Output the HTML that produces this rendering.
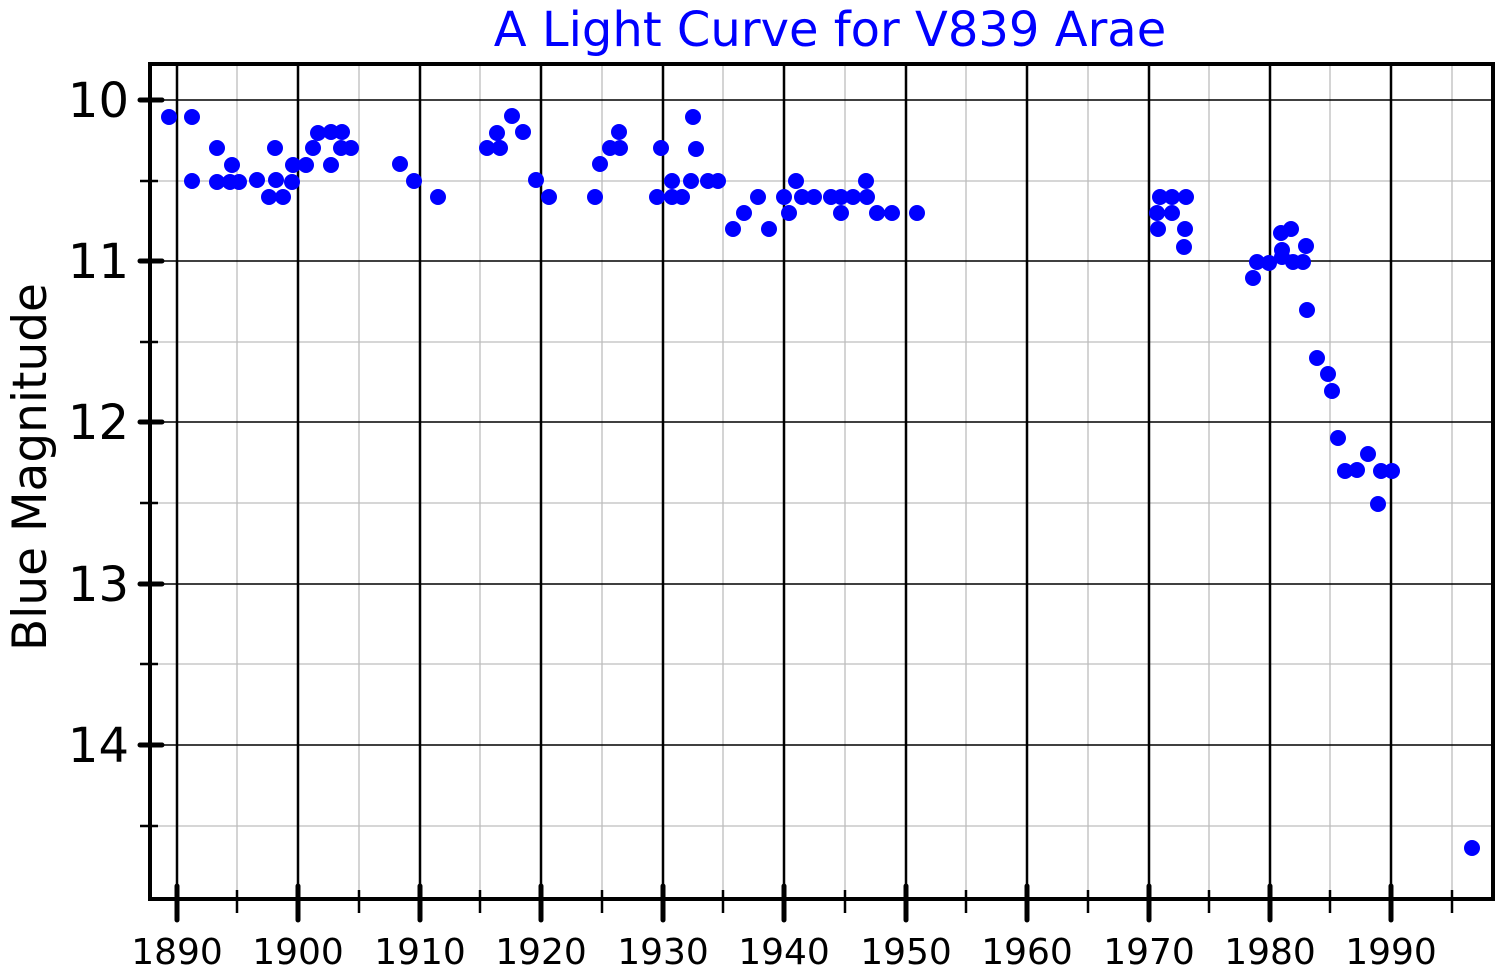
<!DOCTYPE html>
<html><head><meta charset="utf-8"><style>html,body{margin:0;padding:0;background:#fff}svg{display:block}</style></head>
<body>
<svg width="1500" height="975" xmlns="http://www.w3.org/2000/svg" font-family="DejaVu Sans, Liberation Sans, sans-serif">
<rect width="1500" height="975" fill="#fff"/>
<g stroke="#bdbdbd" stroke-width="1.3">
<line x1="150" x2="1493" y1="181" y2="181"/><line x1="150" x2="1493" y1="342" y2="342"/><line x1="150" x2="1493" y1="503" y2="503"/><line x1="150" x2="1493" y1="664" y2="664"/><line x1="150" x2="1493" y1="826" y2="826"/>
<line x1="237" x2="237" y1="64" y2="899"/><line x1="359" x2="359" y1="64" y2="899"/><line x1="480" x2="480" y1="64" y2="899"/><line x1="602" x2="602" y1="64" y2="899"/><line x1="723" x2="723" y1="64" y2="899"/><line x1="845" x2="845" y1="64" y2="899"/><line x1="966" x2="966" y1="64" y2="899"/><line x1="1088" x2="1088" y1="64" y2="899"/><line x1="1209" x2="1209" y1="64" y2="899"/><line x1="1330" x2="1330" y1="64" y2="899"/><line x1="1452" x2="1452" y1="64" y2="899"/>
</g>
<g stroke="#000" stroke-width="1.5">
<line x1="150" x2="1493" y1="100" y2="100"/><line x1="150" x2="1493" y1="261" y2="261"/><line x1="150" x2="1493" y1="422" y2="422"/><line x1="150" x2="1493" y1="584" y2="584"/><line x1="150" x2="1493" y1="745" y2="745"/>
</g>
<g stroke="#000" stroke-width="2.5">
<line x1="177" x2="177" y1="64" y2="899"/><line x1="298" x2="298" y1="64" y2="899"/><line x1="420" x2="420" y1="64" y2="899"/><line x1="541" x2="541" y1="64" y2="899"/><line x1="663" x2="663" y1="64" y2="899"/><line x1="784" x2="784" y1="64" y2="899"/><line x1="906" x2="906" y1="64" y2="899"/><line x1="1027" x2="1027" y1="64" y2="899"/><line x1="1149" x2="1149" y1="64" y2="899"/><line x1="1270" x2="1270" y1="64" y2="899"/><line x1="1391" x2="1391" y1="64" y2="899"/>
</g>
<g stroke="#000" stroke-width="5" stroke-linecap="round">
<line x1="177" x2="177" y1="886" y2="920"/><line x1="298" x2="298" y1="886" y2="920"/><line x1="420" x2="420" y1="886" y2="920"/><line x1="541" x2="541" y1="886" y2="920"/><line x1="663" x2="663" y1="886" y2="920"/><line x1="784" x2="784" y1="886" y2="920"/><line x1="906" x2="906" y1="886" y2="920"/><line x1="1027" x2="1027" y1="886" y2="920"/><line x1="1149" x2="1149" y1="886" y2="920"/><line x1="1270" x2="1270" y1="886" y2="920"/><line x1="1391" x2="1391" y1="886" y2="920"/>
<line x1="140" x2="162" y1="100" y2="100"/><line x1="140" x2="162" y1="261" y2="261"/><line x1="140" x2="162" y1="422" y2="422"/><line x1="140" x2="162" y1="584" y2="584"/><line x1="140" x2="162" y1="745" y2="745"/>
</g>
<g stroke="#000" stroke-width="2.5">
<line x1="237" x2="237" y1="890" y2="913"/><line x1="359" x2="359" y1="890" y2="913"/><line x1="480" x2="480" y1="890" y2="913"/><line x1="602" x2="602" y1="890" y2="913"/><line x1="723" x2="723" y1="890" y2="913"/><line x1="845" x2="845" y1="890" y2="913"/><line x1="966" x2="966" y1="890" y2="913"/><line x1="1088" x2="1088" y1="890" y2="913"/><line x1="1209" x2="1209" y1="890" y2="913"/><line x1="1330" x2="1330" y1="890" y2="913"/><line x1="1452" x2="1452" y1="890" y2="913"/>
<line x1="140" x2="158" y1="181" y2="181"/><line x1="140" x2="158" y1="342" y2="342"/><line x1="140" x2="158" y1="503" y2="503"/><line x1="140" x2="158" y1="664" y2="664"/><line x1="140" x2="158" y1="826" y2="826"/>
</g>
<rect x="150" y="64" width="1343" height="835" fill="none" stroke="#000" stroke-width="4"/>
<g fill="#0000ff">
<circle cx="169" cy="117" r="8"/><circle cx="192" cy="117" r="8"/><circle cx="217" cy="148" r="8"/><circle cx="232" cy="165" r="8"/><circle cx="275" cy="148" r="8"/><circle cx="192" cy="181" r="8"/><circle cx="217" cy="182" r="8"/><circle cx="230" cy="182" r="8"/><circle cx="239" cy="182" r="8"/><circle cx="257" cy="180" r="8"/><circle cx="276" cy="180" r="8"/><circle cx="292" cy="182" r="8"/><circle cx="269" cy="197" r="8"/><circle cx="283" cy="197" r="8"/><circle cx="293" cy="165" r="8"/><circle cx="306" cy="165" r="8"/><circle cx="313" cy="148" r="8"/><circle cx="318" cy="133" r="8"/><circle cx="331" cy="132" r="8"/><circle cx="342" cy="132" r="8"/><circle cx="341" cy="148" r="8"/><circle cx="351" cy="148" r="8"/><circle cx="331" cy="165" r="8"/><circle cx="400" cy="164" r="8"/><circle cx="414" cy="181" r="8"/><circle cx="438" cy="197" r="8"/><circle cx="487" cy="148" r="8"/><circle cx="500" cy="148" r="8"/><circle cx="497" cy="133" r="8"/><circle cx="512" cy="116" r="8"/><circle cx="523" cy="132" r="8"/><circle cx="536" cy="180" r="8"/><circle cx="549" cy="197" r="8"/><circle cx="595" cy="197" r="8"/><circle cx="600" cy="164" r="8"/><circle cx="610" cy="148" r="8"/><circle cx="620" cy="148" r="8"/><circle cx="619" cy="132" r="8"/>
<circle cx="661" cy="148" r="8"/><circle cx="657" cy="197" r="8"/><circle cx="672" cy="181" r="8"/><circle cx="672" cy="197" r="8"/><circle cx="682" cy="197" r="8"/><circle cx="693" cy="117" r="8"/><circle cx="696" cy="149" r="8"/><circle cx="691" cy="181" r="8"/><circle cx="708" cy="181" r="8"/><circle cx="718" cy="181" r="8"/><circle cx="733" cy="229" r="8"/><circle cx="744" cy="213" r="8"/><circle cx="758" cy="197" r="8"/><circle cx="769" cy="229" r="8"/><circle cx="784" cy="197" r="8"/><circle cx="789" cy="213" r="8"/><circle cx="796" cy="181" r="8"/><circle cx="802" cy="197" r="8"/><circle cx="814" cy="197" r="8"/><circle cx="831" cy="197" r="8"/><circle cx="841" cy="197" r="8"/><circle cx="841" cy="213" r="8"/><circle cx="853" cy="197" r="8"/><circle cx="866" cy="181" r="8"/><circle cx="867" cy="197" r="8"/><circle cx="877" cy="213" r="8"/><circle cx="892" cy="213" r="8"/><circle cx="917" cy="213" r="8"/>
<circle cx="1160" cy="197" r="8"/><circle cx="1172" cy="197" r="8"/><circle cx="1186" cy="197" r="8"/><circle cx="1157" cy="213" r="8"/><circle cx="1172" cy="213" r="8"/><circle cx="1158" cy="229" r="8"/><circle cx="1185" cy="229" r="8"/><circle cx="1184" cy="247" r="8"/><circle cx="1257" cy="262" r="8"/><circle cx="1269" cy="263" r="8"/><circle cx="1253" cy="278" r="8"/><circle cx="1281" cy="233" r="8"/><circle cx="1291" cy="229" r="8"/><circle cx="1282" cy="250" r="8"/><circle cx="1282" cy="257" r="8"/><circle cx="1293" cy="262" r="8"/><circle cx="1303" cy="262" r="8"/><circle cx="1306" cy="246" r="8"/><circle cx="1307" cy="310" r="8"/><circle cx="1317" cy="358" r="8"/><circle cx="1328" cy="374" r="8"/><circle cx="1332" cy="391" r="8"/><circle cx="1338" cy="438" r="8"/><circle cx="1345" cy="471" r="8"/><circle cx="1357" cy="470" r="8"/><circle cx="1368" cy="454" r="8"/><circle cx="1381" cy="471" r="8"/><circle cx="1392" cy="471" r="8"/><circle cx="1378" cy="504" r="8"/><circle cx="1472" cy="848" r="8"/>
</g>
<text x="830" y="46" font-size="48" fill="#0000ff" text-anchor="middle">A Light Curve for V839 Arae</text>
<text transform="translate(46,467) rotate(-90)" font-size="47" fill="#000" text-anchor="middle">Blue Magnitude</text>
<g font-size="48" fill="#000" text-anchor="end">
<text x="129" y="117">10</text><text x="129" y="278">11</text><text x="129" y="439">12</text><text x="129" y="601">13</text><text x="129" y="762">14</text>
</g>
<g font-size="36" fill="#000" text-anchor="middle">
<text x="177" y="964">1890</text><text x="298" y="964">1900</text><text x="420" y="964">1910</text><text x="541" y="964">1920</text><text x="663" y="964">1930</text><text x="784" y="964">1940</text><text x="906" y="964">1950</text><text x="1027" y="964">1960</text><text x="1149" y="964">1970</text><text x="1270" y="964">1980</text><text x="1391" y="964">1990</text>
</g>
</svg>
</body></html>
